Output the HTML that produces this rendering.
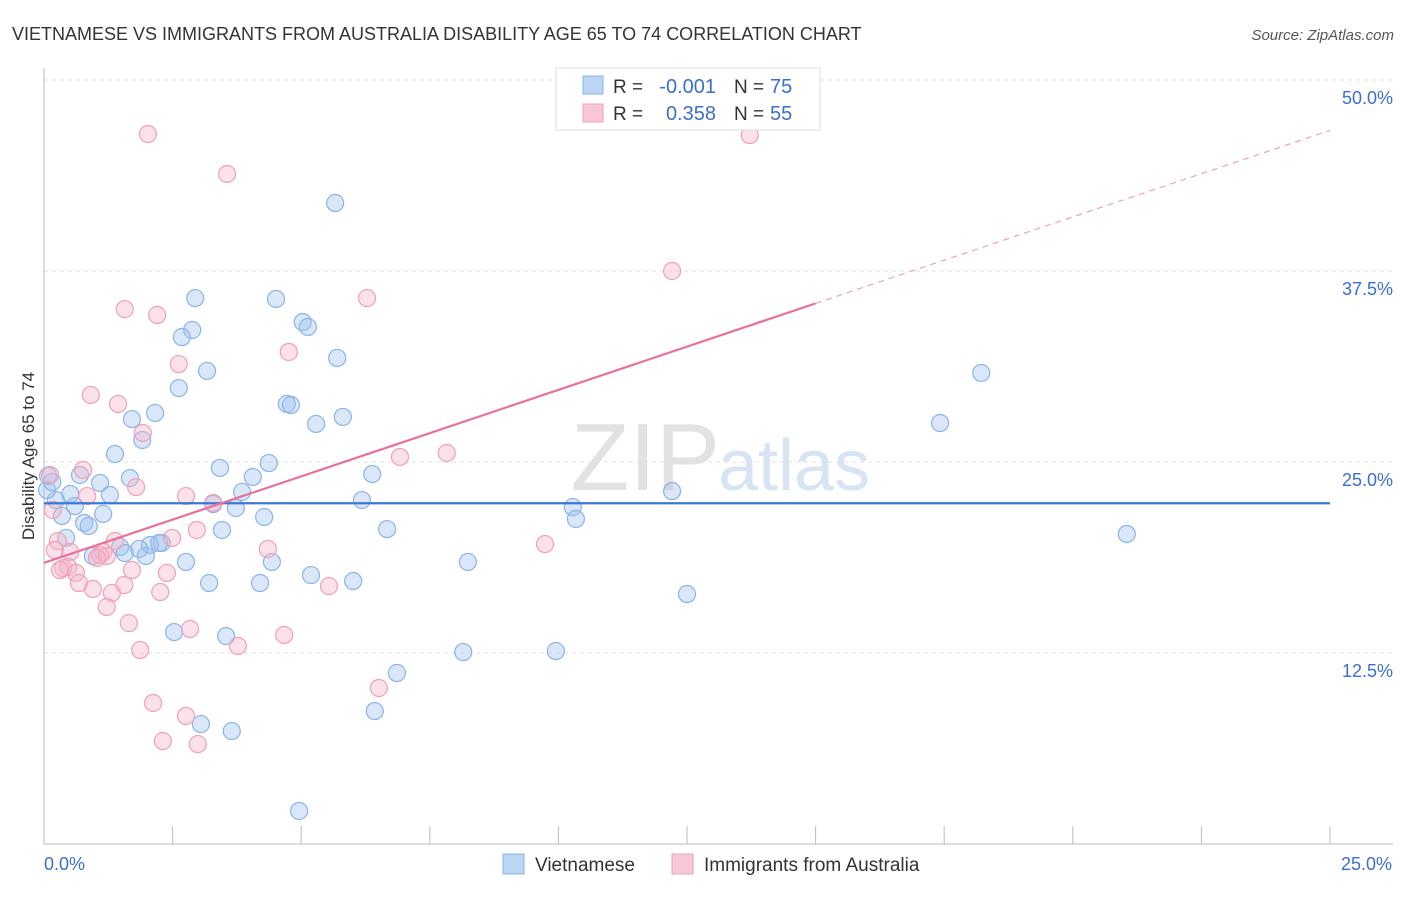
<!DOCTYPE html>
<html><head><meta charset="utf-8"><style>
body{margin:0;background:#fff;font-family:"Liberation Sans",sans-serif}
svg text{font-family:"Liberation Sans",sans-serif}
</style></head><body>
<svg id="c" width="1406" height="892">
<text x="12" y="40" font-size="18" fill="#333">VIETNAMESE VS IMMIGRANTS FROM AUSTRALIA DISABILITY AGE 65 TO 74 CORRELATION CHART</text>
<text x="1394" y="40" font-size="15" fill="#555" text-anchor="end" font-style="italic">Source: ZipAtlas.com</text>
<text x="720" y="490" font-size="96" fill="#e2e2e2" text-anchor="end" font-family="Liberation Serif">ZIP</text>
<text x="718" y="490" font-size="72" fill="#d6e4f4">atlas</text>
<g id="grid"></g><g id="marks"></g>
<text transform="translate(34,456) rotate(-90)" font-size="17" fill="#333" text-anchor="middle">Disability Age 65 to 74</text>
<g>
<rect x="556" y="68" width="264" height="62" fill="#fff" stroke="#ddd"/>
<rect x="583" y="76" width="20" height="18" fill="#bcd5f5" stroke="#8ab4e8"/>
<rect x="583" y="104" width="20" height="18" fill="#f9c6d5" stroke="#f0a0b8"/>
<text x="613" y="93" font-size="19" fill="#333">R =</text>
<text x="716" y="93" font-size="20" fill="#3a6fd0" text-anchor="end">-0.001</text>
<text x="734" y="93" font-size="19" fill="#333">N =</text>
<text x="770" y="93" font-size="20" fill="#3a6fd0">75</text>
<text x="613" y="120" font-size="19" fill="#333">R =</text>
<text x="716" y="120" font-size="20" fill="#3a6fd0" text-anchor="end">0.358</text>
<text x="734" y="120" font-size="19" fill="#333">N =</text>
<text x="770" y="120" font-size="20" fill="#3a6fd0">55</text>
</g>
<g>
<rect x="503" y="854" width="21" height="20" fill="#bcd5f5" stroke="#8ab4e8"/>
<text x="535" y="871" font-size="19" fill="#333">Vietnamese</text>
<rect x="672" y="854" width="21" height="20" fill="#f9c6d5" stroke="#f0a0b8"/>
<text x="704" y="871" font-size="19" fill="#333">Immigrants from Australia</text>
</g>
</svg>
<script>
const yTicks=[12.5,25,37.5,50];
const yTickLabels=["12.5%","25.0%","37.5%","50.0%"];
const xTickLabels=["0.0%","25.0%"];
const blueX=[5.66,2.94,4.51,5.03,5.13,2.88,2.68,5.70,3.17,2.62,18.22,4.72,4.80,2.16,1.71,5.29,5.81,17.42,1.91,1.38,4.37,3.42,0.70,1.67,4.06,6.38,1.09,1.28,3.85,0.51,0.23,0.60,3.29,3.73,6.18,10.28,12.21,1.15,0.35,4.28,10.34,0.78,0.87,3.46,6.67,21.05,0.43,2.29,2.06,2.24,1.48,1.85,1.57,1.98,0.95,2.76,4.43,8.24,5.19,6.01,3.21,4.20,12.50,2.53,3.54,8.15,9.95,6.86,6.43,3.05,3.65,4.96,0.06,0.16,0.08];
const blueY=[41.95,35.73,35.67,34.16,33.84,33.64,33.18,31.81,30.96,29.84,30.83,28.8,28.73,28.21,27.81,27.49,27.95,27.55,26.44,25.52,24.93,24.61,24.15,23.95,24.02,24.21,23.63,22.84,23.04,22.91,22.51,22.12,22.25,21.99,22.51,22.05,23.10,21.60,21.47,21.40,21.27,21.01,20.81,20.55,20.61,20.29,20.03,19.70,19.57,19.70,19.44,19.31,19.04,18.85,18.85,18.46,18.46,18.46,17.60,17.21,17.08,17.08,16.36,13.87,13.61,12.56,12.63,11.19,8.70,7.85,7.39,2.16,23.17,23.69,24.1];
const pinkX=[2.02,13.72,3.56,12.21,6.28,1.57,2.20,4.76,2.62,0.91,1.44,1.92,7.83,6.92,0.76,1.79,2.76,0.84,3.29,0.12,0.17,2.97,2.49,1.38,0.27,0.21,0.51,1.15,1.22,1.09,4.35,1.03,1.71,2.39,0.37,0.47,0.31,0.62,0.68,1.56,0.95,1.32,2.26,5.54,1.22,1.65,2.84,3.77,4.67,1.87,6.51,2.12,2.76,2.99,2.31,9.74];
const pinkY=[46.47,46.40,43.85,37.5,35.73,35.01,34.62,32.2,31.41,29.39,28.8,26.9,25.59,25.33,24.48,23.36,22.77,22.77,22.32,24.15,21.86,20.55,20.03,19.83,19.83,19.24,19.11,19.11,18.85,18.91,19.31,18.72,17.93,17.74,18.06,18.13,17.93,17.74,17.08,16.95,16.69,16.43,16.49,16.88,15.51,14.46,14.07,12.96,13.68,12.70,10.21,9.23,8.38,6.54,6.74,19.63];
const blueTrend=[22.3,22.3];
const pinkTrend=[18.4,46.7];
const pinkSolidEnd=15.0;
const X=v=>44+v*51.44, Y=v=>844-v*15.28;
const NS="http://www.w3.org/2000/svg";
const grid=document.getElementById('grid'),marks=document.getElementById('marks');
function mk(p,tag,a){const e=document.createElementNS(NS,tag);for(const k in a)e.setAttribute(k,a[k]);p.appendChild(e);return e;}
yTicks.forEach((t,i)=>{
 const l=mk(grid,'line',{x1:44,x2:1393,y1:Y(t),y2:Y(t),stroke:'#e0e0e0','stroke-dasharray':'4,4'});
 
 
 const tx=mk(grid,'text',{x:1393,y:Y(t)+24,'font-size':18,fill:'#3a6fd0','text-anchor':'end'});tx.textContent=yTickLabels[i];
 
 
});
const ax=mk(grid,'path',{d:'M44 68V844H1393',stroke:'#bbb',fill:'none'});


for(let i=0;i<=10;i++){const t=mk(grid,'line',{x1:X(i*2.5),x2:X(i*2.5),y1:826,y2:844,stroke:'#bbb'});
 
 }
[[0,'start'],[25,'end']].forEach((d,i)=>{const t=mk(grid,'text',{x:X(d[0])+(i?62:0),y:870,'font-size':18,fill:'#3a6fd0','text-anchor':d[1]});t.textContent=xTickLabels[i];
 
 });
blueX.forEach((v,i)=>{const c=mk(marks,'circle',{cx:X(v),cy:Y(blueY[i]),r:8.5,fill:'rgba(160,196,240,0.4)',stroke:'#8ab4e8','stroke-width':1.2});
 
 });
pinkX.forEach((v,i)=>{const c=mk(marks,'circle',{cx:X(v),cy:Y(pinkY[i]),r:8.5,fill:'rgba(245,180,200,0.4)',stroke:'#f0a0b8','stroke-width':1.2});
 
 });
const bl=mk(marks,'line',{x1:X(0),x2:X(25),y1:Y(blueTrend[0]),y2:Y(blueTrend[1]),stroke:'#3a78d8','stroke-width':2.2});


const py=x=>pinkTrend[0]+(pinkTrend[1]-pinkTrend[0])*x/25;
const pl=mk(marks,'line',{x1:X(0),x2:X(pinkSolidEnd),y1:Y(py(0)),y2:Y(py(pinkSolidEnd)),stroke:'#e8709a','stroke-width':2.2});


const pd=mk(marks,'line',{x1:X(pinkSolidEnd),x2:X(25),y1:Y(py(pinkSolidEnd)),y2:Y(py(25)),stroke:'#f0a0b8','stroke-width':1.2,'stroke-dasharray':'6,5'});


</script>
</body></html>
